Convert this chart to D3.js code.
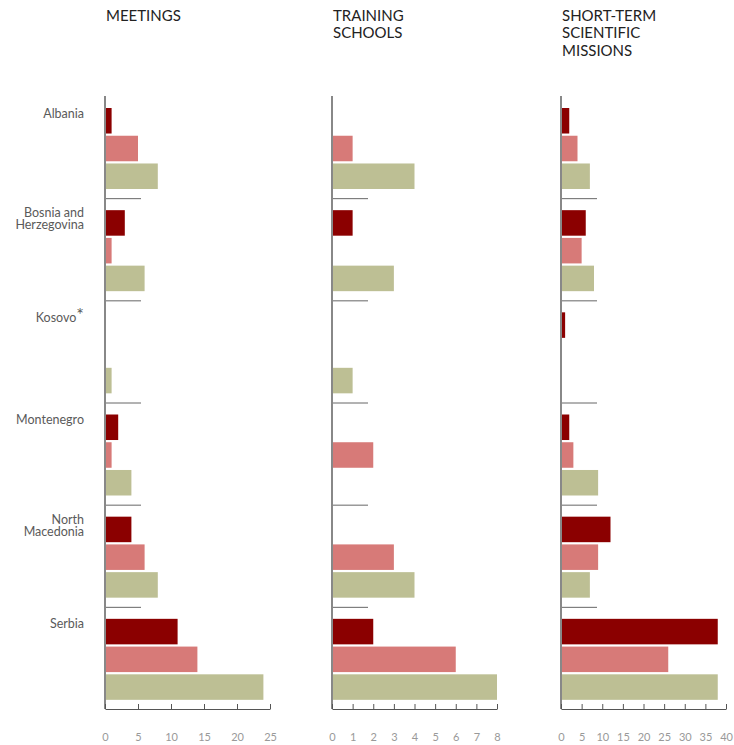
<!DOCTYPE html>
<html>
  <head>
    <script src="https://d3js.org/d3.v7.min.js"></script>
    <style>
      body { margin: 0; background: #fff; }
      text { font-family: Lato, "Open Sans", sans-serif; }
    </style>
  </head>
  <body>
    <div id="chart"></div>
    <script>
      // Data
      const countries = ["Albania", "Bosnia and Herzegovina", "Kosovo", "Montenegro", "North Macedonia", "Serbia"];
      const countryLines = [["Albania"], ["Bosnia and", "Herzegovina"], ["Kosovo"], ["Montenegro"], ["North", "Macedonia"], ["Serbia"]];
      const seriesKeys = ["a", "b", "c"];

      const meetingsA = [1, 3, 0, 2, 4, 11];
      const meetingsB = [5, 1, 0, 1, 6, 14];
      const meetingsC = [8, 6, 1, 4, 8, 24];

      const trainingA = [0, 1, 0, 0, 0, 2];
      const trainingB = [1, 0, 0, 2, 3, 6];
      const trainingC = [4, 3, 1, 0, 4, 8];

      const stsmA = [2, 6, 1, 2, 12, 38];
      const stsmB = [4, 5, 0, 3, 9, 26];
      const stsmC = [7, 8, 0, 9, 7, 38];

      const panels = [
        { title: ["MEETINGS"], max: 25, ticks: [0, 5, 10, 15, 20, 25], series: [meetingsA, meetingsB, meetingsC] },
        { title: ["TRAINING", "SCHOOLS"], max: 8, ticks: [0, 1, 2, 3, 4, 5, 6, 7, 8], series: [trainingA, trainingB, trainingC] },
        { title: ["SHORT-TERM", "SCIENTIFIC", "MISSIONS"], max: 40, ticks: [0, 5, 10, 15, 20, 25, 30, 35, 40], series: [stsmA, stsmB, stsmC] }
      ];

      const colors = ["#8b0000", "#d77a78", "#bdbf94"];

      // Layout
      const width = 734, height = 745;
      const plotTop = 96, plotBottom = 709;
      const panelX = [105, 332, 561];
      const panelW = 165;

      const svg = d3.select("#chart")
        .append("svg")
        .attr("width", width)
        .attr("height", height);

      const y = d3.scaleBand()
        .domain(countries)
        .range([plotTop, plotBottom])
        .paddingInner(0)
        .paddingOuter(0);

      const yInner = d3.scaleBand()
        .domain(seriesKeys)
        .range([12, 12 + 81])
        .paddingInner(0.08)
        .paddingOuter(0);

      // Country labels
      countries.forEach((c, i) => {
        const lines = countryLines[i];
        const t = svg.append("text")
          .attr("text-anchor", "end")
          .attr("x", 84)
          .attr("y", y(c) + (lines.length > 1 ? 19 : 21.5))
          .style("fill", "#5a5a5a")
          .style("font-size", "12.5px");
        lines.forEach((l, j) => {
          t.append("tspan")
            .attr("x", 84)
            .attr("dy", j === 0 ? 0 : 12)
            .text(l);
        });
        if (c === "Kosovo") {
          t.append("tspan")
            .attr("dy", -1)
            .style("font-size", "18px")
            .text("*");
        }
      });

      panels.forEach((p, pi) => {
        const x = d3.scaleLinear()
          .domain([0, p.max])
          .range([panelX[pi], panelX[pi] + panelW]);

        const g = svg.append("g");

        // Title
        const title = g.append("text")
          .attr("x", panelX[pi] + 1)
          .attr("y", 20.5)
          .style("fill", "#222")
          .style("font-size", "15px");
        p.title.forEach((l, j) => {
          title.append("tspan")
            .attr("x", panelX[pi] + 1)
            .attr("dy", j === 0 ? 0 : 17.5)
            .text(l);
        });

        // Bars
        p.series.forEach((vals, si) => {
          g.selectAll(null)
            .data(countries)
            .join("rect")
            .attr("x", x(0))
            .attr("y", c => y(c) + yInner(seriesKeys[si]))
            .attr("width", (c, ci) => x(vals[ci]) - x(0))
            .attr("height", yInner.bandwidth())
            .attr("fill", colors[si]);
        });

        // Separators between groups
        g.selectAll(null)
          .data(countries.slice(1))
          .join("line")
          .attr("x1", x(0))
          .attr("x2", x(0) + 36)
          .attr("y1", c => y(c) + 0.5)
          .attr("y2", c => y(c) + 0.5)
          .attr("stroke", "#666")
          .attr("stroke-width", 1);

        // Vertical axis line
        g.append("line")
          .attr("x1", x(0))
          .attr("x2", x(0))
          .attr("y1", plotTop)
          .attr("y2", plotBottom)
          .attr("stroke", "#888")
          .attr("stroke-width", 2);

        // Bottom axis
        const axis = g.append("g")
          .attr("transform", `translate(0, ${plotBottom})`)
          .call(d3.axisBottom(x).tickValues(p.ticks).tickSize(-5).tickPadding(24).tickSizeOuter(0));
        axis.select(".domain").attr("stroke", "#555");
        axis.selectAll(".tick line").attr("stroke", "#555");
        axis.selectAll(".tick text")
          .style("fill", "#999")
          .style("font-size", "11px")
          .style("font-family", "Lato, 'Open Sans', sans-serif");
      });
    </script>
  </body>
</html>
